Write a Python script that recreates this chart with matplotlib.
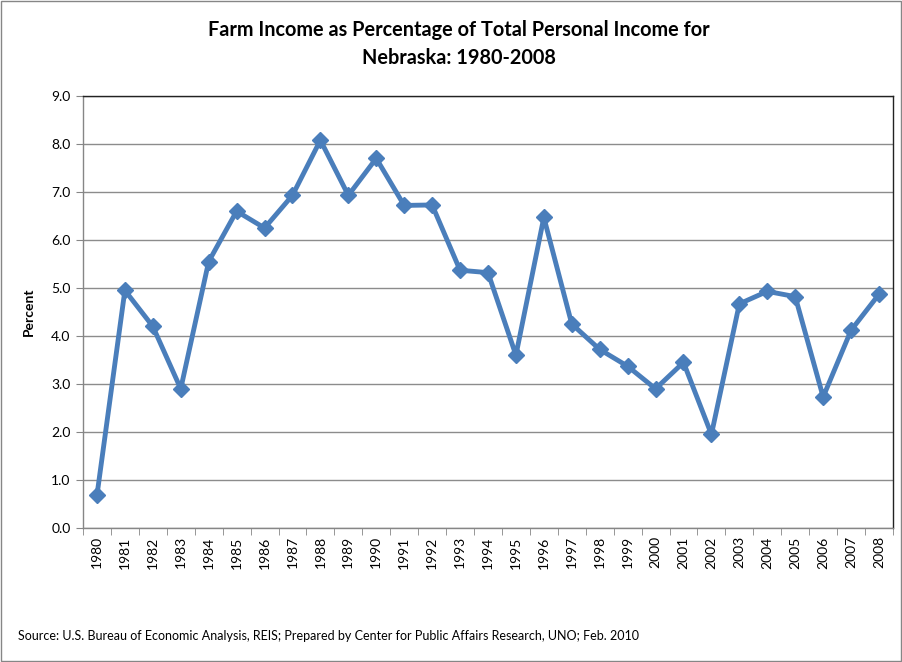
import matplotlib

matplotlib.use("Agg")
import matplotlib.pyplot as plt
import numpy as np
from matplotlib.patches import Rectangle

years = [str(y) for y in range(1980, 2009)]
percent = [
    0.68, 4.95, 4.20, 2.90, 5.55, 6.60, 6.25, 6.93, 8.08, 6.93,
    7.70, 6.72, 6.73, 5.37, 5.32, 3.60, 6.47, 4.25, 3.72, 3.37,
    2.90, 3.45, 1.95, 4.67, 4.93, 4.82, 2.73, 4.12, 4.87,
]
y_ticks = [0.0, 1.0, 2.0, 3.0, 4.0, 5.0, 6.0, 7.0, 8.0, 9.0]

title = "Farm Income as Percentage of Total Personal Income for\nNebraska: 1980-2008"
source = "Source: U.S. Bureau of Economic Analysis, REIS; Prepared by Center for Public Affairs Research, UNO; Feb. 2010"

plt.rcParams["font.family"] = ["Lato", "DejaVu Sans"]

fig = plt.figure(figsize=(9.03, 6.62), dpi=100)
ax = fig.add_axes([0.0919, 0.2024, 0.897, 0.6526])

x = np.arange(len(years))
ax.plot(x, percent, color="#4A7EBB", linewidth=3.5, marker="D", markersize=8,
        markerfacecolor="#4A7EBB", markeredgecolor="#4A7EBB", zorder=3)

ax.set_xlim(-0.5, len(years) - 0.5)
ax.set_ylim(0, 9)
ax.set_yticks(y_ticks)
ax.set_yticklabels([f"{v:.1f}" for v in y_ticks], fontsize=10)
ax.set_xticks(x)
ax.set_xticklabels(years, rotation=90, fontsize=10)
ax.set_xticks(np.arange(-0.5, len(years), 1.0), minor=True)
ax.tick_params(axis="x", which="major", length=0, pad=6)
ax.tick_params(axis="x", which="minor", length=5, color="#868686")
ax.tick_params(axis="y", length=5, color="#868686", pad=4)

ax.grid(axis="y", color="#8C8C8C", linewidth=1.0, zorder=0)
ax.set_axisbelow(True)
for side in ["left", "bottom"]:
    ax.spines[side].set_color("#868686")
    ax.spines[side].set_linewidth(1.0)
for side in ["top", "right"]:
    ax.spines[side].set_color("#222222")
    ax.spines[side].set_linewidth(1.0)

ax.set_ylabel("Percent", fontsize=10, fontweight="bold", labelpad=12)

fig.text(0.508, 0.933, title, ha="center", va="center", fontsize=14.3,
         fontweight="bold", linespacing=1.5)
fig.text(0.020, 0.040, source, ha="left", va="center", fontsize=9)

fig.patches.append(Rectangle((0.001, 0.001), 0.997, 0.997, transform=fig.transFigure,
                             fill=False, edgecolor="#868686", linewidth=1.0))

fig.savefig("out.png", dpi=100)
